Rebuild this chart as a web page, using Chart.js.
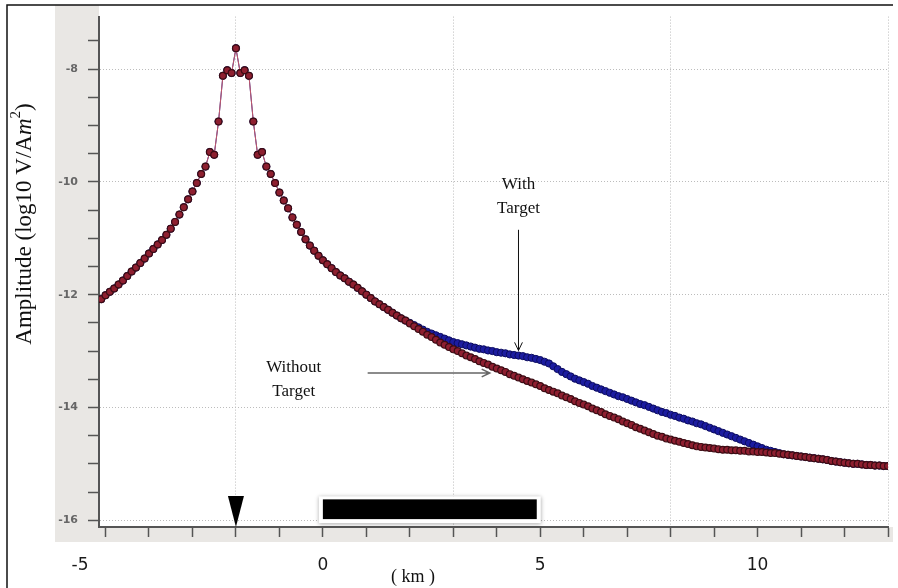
<!DOCTYPE html>
<html>
<head>
<meta charset="utf-8">
<script src="https://cdn.jsdelivr.net/npm/chart.js@4.4.0/dist/chart.umd.min.js"></script>
<style>
  html, body { margin: 0; padding: 0; background: #fff; }
  #wrap { width: 898px; height: 588px; }
</style>
</head>
<body>
<div id="wrap"><canvas id="amplitudeChart" width="898" height="588"></canvas></div>
<script>
// distance along profile (km)
var distanceKm = [
  -5.1,-5.0,-4.9,-4.8,-4.7,-4.6,-4.5,-4.4,-4.3,-4.2,
  -4.1,-4.0,-3.9,-3.8,-3.7,-3.6,-3.5,-3.4,-3.3,-3.2,
  -3.1,-3.0,-2.9,-2.8,-2.7,-2.6,-2.5,-2.4,-2.3,-2.2,
  -2.1,-2.0,-1.9,-1.8,-1.7,-1.6,-1.5,-1.4,-1.3,-1.2,
  -1.1,-1.0,-0.9,-0.8,-0.7,-0.6,-0.5,-0.4,-0.3,-0.2,
  -0.1,0.0,0.1,0.2,0.3,0.4,0.5,0.6,0.7,0.8,
  0.9,1.0,1.1,1.2,1.3,1.4,1.5,1.6,1.7,1.8,
  1.9,2.0,2.1,2.2,2.3,2.4,2.5,2.6,2.7,2.8,
  2.9,3.0,3.1,3.2,3.3,3.4,3.5,3.6,3.7,3.8,
  3.9,4.0,4.1,4.2,4.3,4.4,4.5,4.6,4.7,4.8,
  4.9,5.0,5.1,5.2,5.3,5.4,5.5,5.6,5.7,5.8,
  5.9,6.0,6.1,6.2,6.3,6.4,6.5,6.6,6.7,6.8,
  6.9,7.0,7.1,7.2,7.3,7.4,7.5,7.6,7.7,7.8,
  7.9,8.0,8.1,8.2,8.3,8.4,8.5,8.6,8.7,8.8,
  8.9,9.0,9.1,9.2,9.3,9.4,9.5,9.6,9.7,9.8,
  9.9,10.0,10.1,10.2,10.3,10.4,10.5,10.6,10.7,10.8,
  10.9,11.0,11.1,11.2,11.3,11.4,11.5,11.6,11.7,11.8,
  11.9,12.0,12.1,12.2,12.3,12.4,12.5,12.6,12.7,12.8,
  12.9,13.0
];

// log10 amplitude, without target (red)
var withoutTarget = [
  -12.08,-12.01,-11.95,-11.89,-11.82,-11.75,-11.67,-11.59,-11.52,-11.44,
  -11.36,-11.27,-11.19,-11.11,-11.03,-10.94,-10.83,-10.71,-10.58,-10.45,
  -10.31,-10.17,-10.02,-9.86,-9.73,-9.47,-9.52,-8.93,-8.12,-8.02,
  -8.07,-7.63,-8.07,-8.02,-8.12,-8.93,-9.52,-9.47,-9.73,-9.86,
  -10.02,-10.19,-10.33,-10.47,-10.63,-10.76,-10.89,-11.02,-11.13,-11.22,
  -11.31,-11.39,-11.46,-11.53,-11.60,-11.66,-11.71,-11.77,-11.82,-11.88,
  -11.94,-12.00,-12.06,-12.12,-12.17,-12.22,-12.27,-12.32,-12.37,-12.42,
  -12.46,-12.51,-12.56,-12.61,-12.66,-12.71,-12.75,-12.80,-12.85,-12.89,
  -12.93,-12.97,-13.00,-13.04,-13.08,-13.11,-13.14,-13.18,-13.21,-13.24,
  -13.28,-13.31,-13.34,-13.37,-13.41,-13.44,-13.47,-13.50,-13.53,-13.56,
  -13.59,-13.62,-13.66,-13.69,-13.72,-13.75,-13.79,-13.82,-13.85,-13.89,
  -13.92,-13.95,-13.98,-14.02,-14.05,-14.08,-14.12,-14.15,-14.18,-14.21,
  -14.25,-14.28,-14.31,-14.35,-14.38,-14.41,-14.44,-14.47,-14.50,-14.52,
  -14.55,-14.57,-14.59,-14.61,-14.63,-14.65,-14.67,-14.69,-14.70,-14.71,
  -14.72,-14.73,-14.74,-14.75,-14.75,-14.76,-14.76,-14.77,-14.77,-14.78,
  -14.78,-14.79,-14.79,-14.80,-14.81,-14.81,-14.82,-14.83,-14.84,-14.85,
  -14.86,-14.87,-14.88,-14.89,-14.90,-14.91,-14.92,-14.93,-14.95,-14.96,
  -14.97,-14.98,-14.99,-15.00,-15.00,-15.01,-15.02,-15.02,-15.03,-15.03,
  -15.04,-15.04
];

// log10 amplitude, with target (blue)
var withTarget = [
  -12.08,-12.01,-11.95,-11.89,-11.82,-11.75,-11.67,-11.59,-11.52,-11.44,
  -11.36,-11.27,-11.19,-11.11,-11.03,-10.94,-10.83,-10.71,-10.58,-10.45,
  -10.31,-10.17,-10.02,-9.86,-9.73,-9.47,-9.52,-8.93,-8.12,-8.02,
  -8.07,-7.63,-8.07,-8.02,-8.12,-8.93,-9.52,-9.47,-9.73,-9.86,
  -10.02,-10.19,-10.33,-10.47,-10.63,-10.76,-10.89,-11.02,-11.13,-11.22,
  -11.31,-11.39,-11.46,-11.53,-11.60,-11.66,-11.71,-11.77,-11.82,-11.88,
  -11.94,-12.00,-12.06,-12.12,-12.17,-12.22,-12.27,-12.32,-12.37,-12.42,
  -12.46,-12.50,-12.54,-12.58,-12.62,-12.66,-12.69,-12.72,-12.75,-12.78,
  -12.81,-12.84,-12.86,-12.88,-12.90,-12.92,-12.94,-12.96,-12.97,-12.99,
  -13.00,-13.02,-13.03,-13.04,-13.06,-13.07,-13.08,-13.09,-13.11,-13.12,
  -13.14,-13.16,-13.19,-13.22,-13.27,-13.32,-13.37,-13.41,-13.45,-13.49,
  -13.52,-13.55,-13.58,-13.62,-13.65,-13.68,-13.71,-13.74,-13.77,-13.80,
  -13.82,-13.85,-13.88,-13.91,-13.94,-13.96,-13.99,-14.02,-14.05,-14.08,
  -14.10,-14.13,-14.15,-14.18,-14.20,-14.23,-14.25,-14.28,-14.30,-14.33,
  -14.36,-14.39,-14.42,-14.45,-14.48,-14.51,-14.54,-14.57,-14.60,-14.63,
  -14.66,-14.69,-14.72,-14.75,-14.77,-14.79,-14.81,-14.83,-14.84,-14.85,
  -14.86,-14.87,-14.88,-14.89,-14.90,-14.91,-14.92,-14.93,-14.95,-14.96,
  -14.97,-14.98,-14.99,-15.00,-15.00,-15.01,-15.02,-15.02,-15.03,-15.03,
  -15.04,-15.04
];

var xTickLabels = [-5, 0, 5, 10];
var xGridValues = [-2, 3, 8, 13];
var yTickLabels = [-8, -10, -12, -14, -16];

// source position, target extent (km)
var sourceKm = -2;
var targetFromKm = 0;
var targetToKm = 4.92;

var serif = '"Liberation Serif", "Times New Roman", serif';
var sans = '"DejaVu Sans", Verdana, sans-serif';

function isOneOf(v, list) {
    for (var i = 0; i < list.length; i++) {
        if (Math.abs(v - list[i]) < 1e-6) return true;
    }
    return false;
}

function drawArrow(ctx, x1, y1, x2, y2, color, width) {
    var ang = Math.atan2(y2 - y1, x2 - x1);
    var head = 9;
    ctx.save();
    ctx.strokeStyle = color;
    ctx.lineWidth = width;
    ctx.beginPath();
    ctx.moveTo(x1, y1);
    ctx.lineTo(x2, y2);
    ctx.moveTo(x2 - head * Math.cos(ang - 0.45), y2 - head * Math.sin(ang - 0.45));
    ctx.lineTo(x2, y2);
    ctx.lineTo(x2 - head * Math.cos(ang + 0.45), y2 - head * Math.sin(ang + 0.45));
    ctx.stroke();
    ctx.restore();
}

var decorPlugin = {
    id: 'decor',
    beforeDraw: function (chart) {
        var ctx = chart.ctx;
        var area = chart.chartArea;
        ctx.save();
        ctx.fillStyle = '#ffffff';
        ctx.fillRect(0, 0, chart.width, chart.height);
        // grey frame around axes
        ctx.fillStyle = '#e9e7e4';
        ctx.fillRect(55, 5, area.left - 55, area.bottom - 5);
        ctx.fillRect(55, area.bottom, 893 - 55, 542 - area.bottom);
        ctx.restore();
    },
    afterDraw: function (chart) {
        var ctx = chart.ctx;
        var xs = chart.scales.x;
        var ys = chart.scales.y;
        var area = chart.chartArea;
        ctx.save();

        // outer border
        ctx.strokeStyle = '#111';
        ctx.lineWidth = 1.5;
        ctx.beginPath();
        ctx.moveTo(7, 588);
        ctx.lineTo(7, 5);
        ctx.lineTo(893, 5);
        ctx.stroke();

        // target bar
        var bx1 = xs.getPixelForValue(targetFromKm);
        var bx2 = xs.getPixelForValue(targetToKm);
        var by1 = ys.getPixelForValue(-15.63);
        var by2 = ys.getPixelForValue(-15.98);
        ctx.save();
        ctx.shadowColor = 'rgba(0,0,0,0.35)';
        ctx.shadowBlur = 4;
        ctx.shadowOffsetY = 1;
        ctx.fillStyle = '#ffffff';
        ctx.fillRect(bx1 - 4, by1 - 3, bx2 - bx1 + 8, by2 - by1 + 7);
        ctx.restore();
        ctx.fillStyle = '#000000';
        ctx.fillRect(bx1, by1, bx2 - bx1, by2 - by1);

        // source marker
        var sx = xs.getPixelForValue(sourceKm);
        ctx.fillStyle = '#000000';
        ctx.beginPath();
        ctx.moveTo(sx - 8, area.bottom - 31);
        ctx.lineTo(sx + 8, area.bottom - 31);
        ctx.lineTo(sx, area.bottom);
        ctx.closePath();
        ctx.fill();

        // annotations
        ctx.fillStyle = '#111';
        ctx.font = '17px ' + serif;
        ctx.textAlign = 'center';
        ctx.textBaseline = 'middle';
        var wx = xs.getPixelForValue(4.5);
        ctx.fillText('With', wx, ys.getPixelForValue(-10.05));
        ctx.fillText('Target', wx, ys.getPixelForValue(-10.47));
        drawArrow(ctx, wx, ys.getPixelForValue(-10.85), wx, ys.getPixelForValue(-12.99), '#111', 1);

        var nx = xs.getPixelForValue(-0.67);
        ctx.fillText('Without', nx, ys.getPixelForValue(-13.3));
        ctx.fillText('Target', nx, ys.getPixelForValue(-13.72));
        var ay = ys.getPixelForValue(-13.39);
        drawArrow(ctx, xs.getPixelForValue(1.03), ay, xs.getPixelForValue(3.84), ay, '#666', 1.5);

        // x axis title
        ctx.font = '18px ' + serif;
        ctx.fillText('( km )', 413, 577);

        // y axis title, rotated, with italic m and superscript 2
        ctx.translate(25, 224);
        ctx.rotate(-Math.PI / 2);
        var parts = [
            ['Amplitude (log10 V/A', '23px ' + serif, 0],
            ['m', 'italic 23px ' + serif, 0],
            ['2', '15px ' + serif, -9],
            [')', '23px ' + serif, 0]
        ];
        var total = 0;
        parts.forEach(function (p) {
            ctx.font = p[1];
            total += ctx.measureText(p[0]).width;
        });
        var cx = -total / 2;
        ctx.textAlign = 'left';
        parts.forEach(function (p) {
            ctx.font = p[1];
            ctx.fillText(p[0], cx, p[2]);
            cx += ctx.measureText(p[0]).width;
        });
        ctx.restore();
    }
};

var chartElement = document.getElementById('amplitudeChart').getContext('2d');

var redPoints = [];
var bluePoints = [];
distanceKm.forEach(function (x, i) {
    redPoints.push({ x: x, y: withoutTarget[i] });
    bluePoints.push({ x: x, y: withTarget[i] });
});

var chartObject = new Chart(chartElement, {
    type: 'line',
    data: {
        datasets: [{
            label: 'Without Target',
            data: redPoints,
            borderColor: '#c45a68',
            borderWidth: 1,
            pointRadius: 3.4,
            pointBackgroundColor: '#8e1f30',
            pointBorderColor: '#3c0c14',
            pointBorderWidth: 1.2,
            tension: 0
        }, {
            label: 'With Target',
            data: bluePoints,
            borderColor: '#22229a',
            borderWidth: 1,
            pointRadius: 3.6,
            pointBackgroundColor: '#1c1ca0',
            pointBorderColor: '#0c0c60',
            pointBorderWidth: 1,
            tension: 0
        }]
    },
    options: {
        responsive: false,
        animation: false,
        devicePixelRatio: 1,
        layout: { padding: { top: 10, right: 10, left: 0, bottom: 0 } },
        plugins: {
            legend: { display: false },
            tooltip: { enabled: false }
        },
        scales: {
            x: {
                type: 'linear',
                min: -5.15,
                max: 13,
                afterFit: function (scale) {
                    scale.height = 61;
                    scale.paddingLeft = 0;
                    scale.paddingRight = 0;
                },
                border: { display: true, color: '#555', width: 2, dash: [1, 2] },
                grid: {
                    color: function (c) {
                        return isOneOf(c.tick.value, xGridValues) ? '#bcbcbc' : 'rgba(0,0,0,0)';
                    },
                    tickColor: '#555',
                    tickLength: 10,
                    tickWidth: 1.5,
                    tickBorderDash: []
                },
                ticks: {
                    stepSize: 1,
                    includeBounds: false,
                    autoSkip: false,
                    maxRotation: 0,
                    padding: 18,
                    color: '#1a1a1a',
                    font: { family: sans, size: 17 },
                    callback: function (v) {
                        if (!isOneOf(v, xTickLabels)) return '';
                        // the -5 label sits left of its tick in the original
                        return v === -5 ? '-5\u2003\u2003\u2003' : String(v);
                    }
                }
            },
            y: {
                type: 'linear',
                min: -16.12,
                max: -7.07,
                afterFit: function (scale) { scale.width = 99; },
                border: { display: true, color: '#555', width: 2, dash: [1, 2] },
                grid: {
                    color: function (c) {
                        return isOneOf(c.tick.value, yTickLabels) ? '#bcbcbc' : 'rgba(0,0,0,0)';
                    },
                    tickColor: '#555',
                    tickLength: 11,
                    tickWidth: 1.5,
                    tickBorderDash: []
                },
                ticks: {
                    stepSize: 0.5,
                    includeBounds: false,
                    autoSkip: false,
                    padding: 10,
                    color: '#666',
                    font: { family: sans, size: 11, weight: 'bold' },
                    callback: function (v) {
                        return isOneOf(v, yTickLabels) ? String(v) : '';
                    }
                }
            }
        }
    },
    plugins: [decorPlugin]
});
chartObject.update();
</script>
</body>
</html>
